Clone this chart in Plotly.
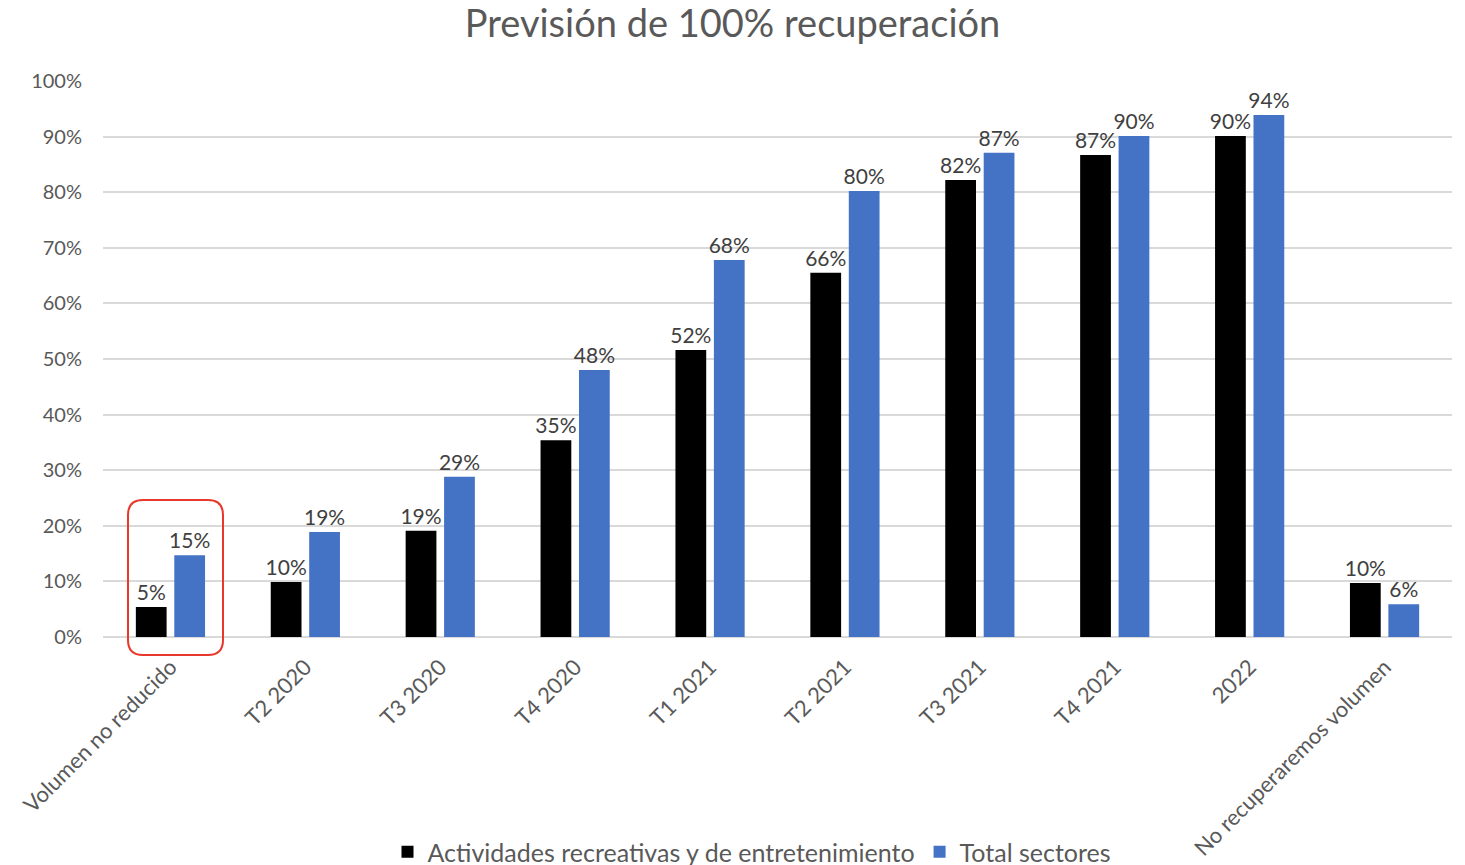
import plotly.graph_objects as go

categories = ["Volumen no reducido", "T2 2020", "T3 2020", "T4 2020", "T1 2021",
              "T2 2021", "T3 2021", "T4 2021", "2022", "No recuperaremos volumen"]
recreativas = [5.4, 9.9, 19.1, 35.4, 51.6, 65.5, 82.2, 86.7, 90.1, 9.7]
total = [14.7, 18.9, 28.8, 48.0, 67.8, 80.2, 87.1, 90.1, 93.9, 5.9]
series_names = ["Actividades recreativas y de entretenimiento", "Total sectores"]
yticks = [0, 10, 20, 30, 40, 50, 60, 70, 80, 90, 100]

FONT = "Lato"
W, H = 1465, 865
ml, mr, mt, mb = 103, 13, 81, 228

fig = go.Figure()
for name, vals, col in [(series_names[0], recreativas, "#000000"),
                        (series_names[1], total, "#4472C4")]:
    fig.add_trace(go.Bar(
        x=categories, y=vals, name=name,
        marker=dict(color=col, line=dict(width=0)),
        text=[f"{round(v):.0f}%" for v in vals],
        textposition="outside", cliponaxis=False, constraintext="none",
        textfont=dict(family=FONT, size=21, color="#404040"),
        hoverinfo="x+y",
    ))

pw = W - ml - mr
ph = H - mt - mb
def px(x):
    return (x - ml) / pw
def py(y):
    return (H - mb - y) / ph

x0, x1, y0, y1 = px(128), px(223), py(500), py(655)
rx, ry = 15 / pw, 15 / ph
path = (f"M {x0+rx} {y0} L {x1-rx} {y0} Q {x1} {y0} {x1} {y0-ry} "
        f"L {x1} {y1+ry} Q {x1} {y1} {x1-rx} {y1} "
        f"L {x0+rx} {y1} Q {x0} {y1} {x0} {y1+ry} "
        f"L {x0} {y0-ry} Q {x0} {y0} {x0+rx} {y0} Z")

fig.update_layout(
    width=W, height=H,
    margin=dict(l=ml, r=mr, t=mt, b=mb),
    paper_bgcolor="white", plot_bgcolor="white",
    barmode="group", bargap=0.43, bargroupgap=0.2,
    title=dict(text="Previsión de 100% recuperación", x=0.5, xref="container",
               xanchor="center", y=1 - 24 / H, yref="container", yanchor="middle",
               font=dict(family=FONT, size=38, color="#595959")),
    xaxis=dict(tickangle=-45, tickfont=dict(family=FONT, size=22, color="#595959"),
               showgrid=False, showline=False, ticks="", automargin=False,
               ticklabelstandoff=12),
    yaxis=dict(range=[0, 100], tickvals=yticks, ticktext=[f"{v}%" for v in yticks],
               tickfont=dict(family=FONT, size=20, color="#595959"),
               showgrid=True, gridcolor="#D9D9D9", gridwidth=1.5,
               zeroline=True, zerolinecolor="#D9D9D9", zerolinewidth=1.5,
               ticks="", automargin=False, ticklabelstandoff=20),
    legend=dict(orientation="h", x=752 / W, xref="container", xanchor="center",
                y=1 - 852 / H, yref="container", yanchor="middle",
                font=dict(family=FONT, size=25, color="#595959"),
                itemwidth=30, traceorder="normal"),
    shapes=[dict(type="path", xref="paper", yref="paper", path=path,
                 line=dict(color="#E8382B", width=2), fillcolor="rgba(0,0,0,0)")],
    showlegend=True,
)

fig.write_html("out.html", config={"displayModeBar": False},
               post_script="document.body.style.margin='0';")
